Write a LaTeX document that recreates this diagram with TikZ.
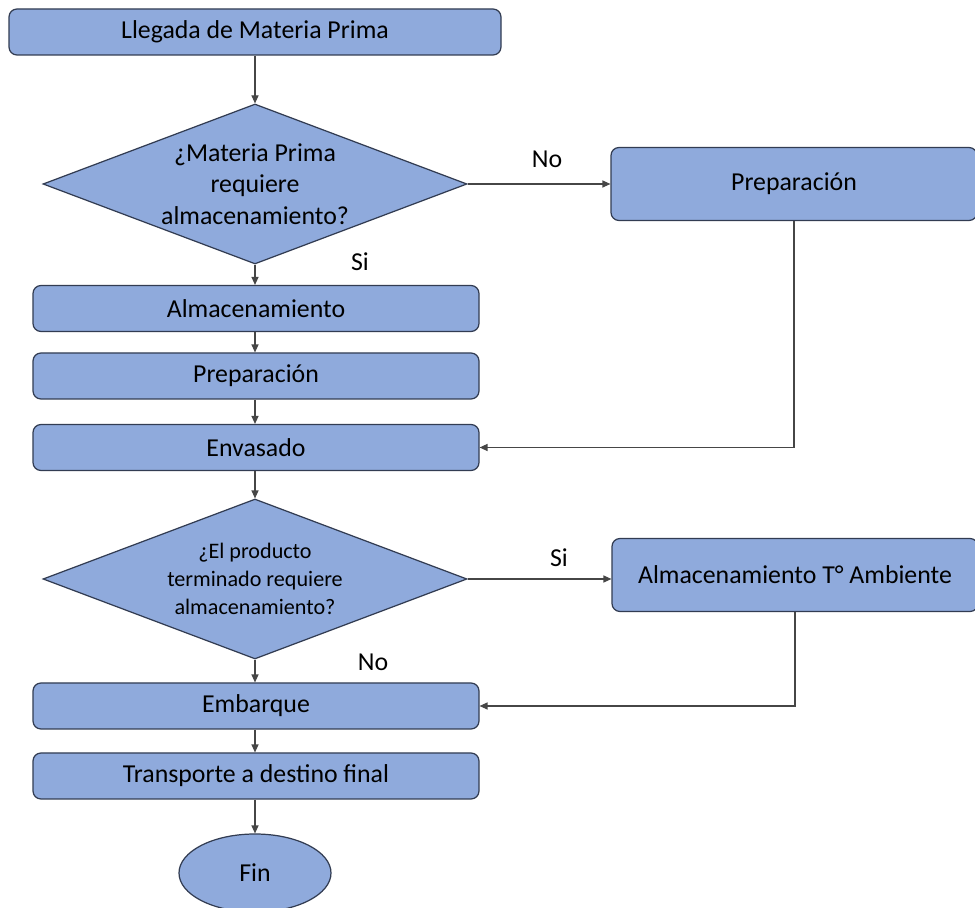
\documentclass[tikz,border=0pt]{standalone}
\usepackage{fontspec}
\setmainfont{Carlito}
\usetikzlibrary{shapes.geometric,arrows.meta}
\definecolor{boxfill}{RGB}{143,170,220}
\definecolor{boxline}{RGB}{50,60,82}
\definecolor{wire}{RGB}{70,70,70}
\begin{document}
\begin{tikzpicture}[x=0.02cm,y=-0.02cm,
  proc/.style={draw=boxline, fill=boxfill, rounded corners=0.16cm, line width=0.7pt,
    inner sep=0pt, align=center, font=\fontsize{14.7}{17.6}\selectfont},
  decision/.style={draw=boxline, fill=boxfill, diamond, line width=0.7pt,
    inner sep=0pt, shape aspect=2.6, align=center,
    minimum width=424*0.02cm, minimum height=160*0.02cm},
  terminal/.style={draw=boxline, fill=boxfill, ellipse, line width=0.7pt,
    inner sep=0pt, minimum width=152*0.02cm, minimum height=78*0.02cm,
    font=\fontsize{14.7}{17.6}\selectfont},
  tag/.style={inner sep=0pt, font=\fontsize{14.7}{17.6}\selectfont},
  flow/.style={draw=wire, line width=0.6pt, -{Triangle[length=4.5pt,width=4pt]}},
  wideproc/.style={proc, minimum width=446*0.02cm, minimum height=46*0.02cm},
  sideproc/.style={proc, minimum width=366*0.02cm, minimum height=73*0.02cm}]

\fill[white] (0,0) rectangle (975,908);
\useasboundingbox (0,0) rectangle (975,908);
\clip (0,0) rectangle (975,908);

% main column
\node[proc, minimum width=492*0.02cm, minimum height=46*0.02cm] (llegada) at (255,32) {Llegada de Materia Prima};
\node[decision, font=\fontsize{14.7}{18}\selectfont] (q1) at (255,184) {¿Materia Prima\\requiere\\almacenamiento?};
\node[wideproc] (alm) at (256,308.5) {Almacenamiento};
\node[wideproc] (prep) at (256,376) {Preparación};
\node[wideproc] (env) at (256,447.5) {Envasado};
\node[decision, font=\fontsize{12.6}{16}\selectfont] (q2) at (255,579) {¿El producto\\terminado requiere\\almacenamiento?};
\node[wideproc] (emb) at (256,706) {Embarque};
\node[wideproc] (trans) at (256,776) {Transporte a destino final};
\node[terminal] (fin) at (255,873) {Fin};

% side branches
\node[sideproc] (prepR) at (794,184) {Preparación};
\node[sideproc] (ambiente) at (795,575) {Almacenamiento T° Ambiente};

% connectors
\draw[flow] (llegada) -- (q1.north);
\draw[flow] (q1.south) -- (alm.north -| q1.south);
\draw[flow] (alm.south -| q1.south) -- (prep.north -| q1.south);
\draw[flow] (prep.south -| q1.south) -- (env.north -| q1.south);
\draw[flow] (env.south -| q2.north) -- (q2.north);
\draw[flow] (q2.south) -- (emb.north -| q2.south);
\draw[flow] (emb.south -| q2.south) -- (trans.north -| q2.south);
\draw[flow] (trans.south -| fin.north) -- (fin.north);

\draw[flow] (q1.east) -- (q1.east -| prepR.west);
\draw[flow] (prepR.south) |- (env.east);
\draw[flow] (q2.east) -- (q2.east -| ambiente.west);
\draw[flow] (ambiente.south) |- (emb.east);

% branch labels
\node[tag] (no1) at (547,159) {No};
\node[tag] (si1) at (360,262) {Si};
\node[tag] (si2) at (559,558) {Si};
\node[tag] (no2) at (373,662) {No};
\end{tikzpicture}
\end{document}
